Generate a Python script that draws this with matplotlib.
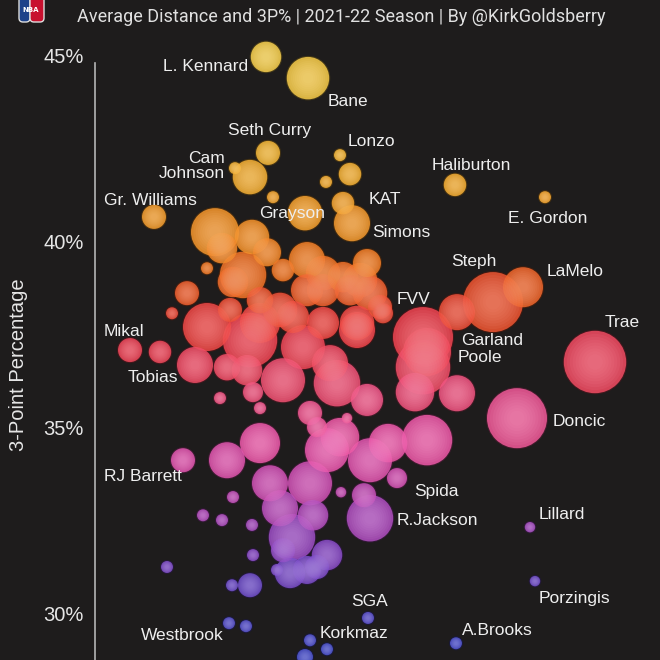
import matplotlib
matplotlib.use("Agg")
import matplotlib.pyplot as plt
import numpy as np
from matplotlib.colors import LinearSegmentedColormap, Normalize
from matplotlib.patches import FancyBboxPatch

# average shot distance (ft), 3P%, 3PA per game (bubble size)
avg_dist = [13.32, 14.16, 13.36, 12.70, 13.00, 13.46, 14.10, 14.80, 15.00, 14.52,
            14.86, 15.04, 17.10, 18.90, 11.08, 12.30, 13.04, 12.44, 13.34, 14.14,
            13.66, 12.14, 12.86, 12.66, 11.74, 11.44, 14.46, 14.86, 15.20, 15.40,
            14.46, 15.00, 14.14, 13.60, 13.20, 12.60, 15.60, 12.14, 13.20, 13.86,
            14.46, 15.14, 15.66, 10.60, 11.20, 11.90, 13.00, 12.54, 12.94, 13.66,
            14.06, 14.60, 14.74, 15.34, 13.06, 13.20, 12.40, 14.20, 14.34, 14.94,
            15.14, 15.34, 17.86, 18.46, 17.14, 16.46, 16.54, 16.46, 16.30, 17.14,
            19.90, 18.34, 16.54, 15.76, 14.80, 13.20, 12.54, 11.66, 14.54, 15.40,
            15.94, 13.40, 14.20, 13.60, 14.26, 15.40, 15.28, 14.82, 12.66, 12.06,
            12.44, 13.04, 13.84, 13.66, 13.06, 14.54, 13.80, 14.14, 13.54, 11.34,
            13.00, 12.64, 14.34, 12.58, 12.92, 14.20, 14.54, 15.36, 18.60, 18.70,
            17.12, 14.10]
three_pct = [44.95, 44.38, 42.37, 41.96, 41.72, 41.18, 40.75, 42.31, 41.80, 41.59,
             41.02, 40.48, 41.51, 41.18, 40.65, 40.24, 40.11, 39.81, 39.70, 39.49,
             39.22, 39.27, 39.09, 38.90, 38.60, 38.06, 39.14, 39.03, 38.95, 38.60,
             38.68, 38.68, 38.68, 38.15, 38.41, 38.15, 38.23, 37.69, 37.80, 37.96,
             37.80, 37.80, 38.06, 37.07, 37.02, 36.67, 37.34, 36.61, 36.53, 36.26,
             37.15, 36.72, 36.18, 35.73, 35.94, 35.51, 35.78, 35.38, 35.00, 35.24,
             37.61, 39.41, 38.36, 38.76, 38.09, 37.42, 37.02, 36.61, 35.94, 35.91,
             36.75, 35.24, 34.65, 34.57, 34.73, 34.57, 34.11, 34.11, 34.38, 34.11,
             33.63, 33.49, 33.49, 32.82, 32.63, 32.55, 33.17, 33.25, 33.12, 32.63,
             32.50, 32.37, 32.04, 31.69, 31.56, 31.56, 31.08, 31.16, 31.16, 31.24,
             30.75, 30.75, 31.24, 29.73, 29.65, 29.27, 29.03, 29.87, 32.31, 30.86,
             29.19, 28.82]
three_pa = [3.8, 5.3, 3.0, 1.5, 4.3, 1.5, 4.3, 1.5, 2.8, 1.5,
            2.8, 4.5, 2.8, 1.5, 3.0, 6.0, 4.3, 3.8, 3.5, 4.5,
            2.8, 1.5, 5.8, 3.8, 3.0, 1.5, 4.3, 3.8, 4.3, 4.3,
            4.0, 3.8, 4.0, 4.3, 3.3, 3.0, 3.0, 6.0, 5.0, 4.0,
            4.0, 4.3, 2.5, 3.0, 2.8, 4.5, 6.8, 3.3, 3.8, 5.5,
            5.5, 4.5, 5.8, 4.0, 2.5, 1.5, 1.5, 3.0, 2.5, 1.3,
            4.5, 3.5, 7.5, 5.0, 4.5, 7.5, 6.0, 6.8, 4.8, 4.5,
            7.8, 7.5, 6.3, 4.8, 4.8, 5.0, 4.5, 3.0, 5.5, 5.5,
            2.5, 4.5, 5.5, 4.5, 3.8, 5.8, 3.0, 1.3, 1.5, 1.5,
            1.5, 1.5, 5.8, 3.0, 1.5, 3.8, 3.8, 3.5, 1.5, 1.5,
            3.0, 1.5, 3.0, 1.5, 1.5, 1.5, 1.5, 1.5, 1.3, 1.3,
            1.5, 2.0]

# player labels: name, x, y, alignment
labels = [("L. Kennard", 12.96, 44.70, "right"), ("Bane", 14.56, 43.74, "left"),
          ("Seth Curry", 12.56, 42.96, "left"), ("Lonzo", 14.96, 42.69, "left"),
          ("Cam\nJohnson", 12.50, 42.02, "right"), ("Haliburton", 16.64, 42.02, "left"),
          ("Gr. Williams", 10.08, 41.10, "left"), ("KAT", 15.38, 41.13, "left"),
          ("Grayson", 13.18, 40.75, "left"), ("E. Gordon", 18.16, 40.62, "left"),
          ("Simons", 15.44, 40.24, "left"), ("Steph", 17.02, 39.44, "left"),
          ("LaMelo", 18.94, 39.19, "left"), ("FVV", 15.94, 38.44, "left"),
          ("Trae", 20.10, 37.82, "left"), ("Mikal", 10.08, 37.58, "left"),
          ("Garland", 17.22, 37.34, "left"), ("Poole", 17.16, 36.88, "left"),
          ("Tobias", 10.56, 36.32, "left"), ("Doncic", 19.06, 35.16, "left"),
          ("RJ Barrett", 10.08, 33.68, "left"), ("Spida", 16.28, 33.28, "left"),
          ("R.Jackson", 15.94, 32.50, "left"), ("Lillard", 18.78, 32.66, "left"),
          ("SGA", 15.02, 30.30, "left"), ("Porzingis", 18.78, 30.40, "left"),
          ("Westbrook", 10.82, 29.41, "left"), ("Korkmaz", 14.40, 29.46, "left"),
          ("A.Brooks", 17.24, 29.54, "left")]

yticks = [30, 35, 40, 45]

bg = "#1e1c1c"
cmap = LinearSegmentedColormap.from_list("pct", [
    (0.00, "#4f55d0"), (0.094, "#6a52cc"), (0.156, "#8a4ec8"), (0.219, "#b050c0"),
    (0.281, "#d052b4"), (0.344, "#ec5aac"), (0.406, "#f05a90"), (0.469, "#f0506a"),
    (0.531, "#ef4550"), (0.581, "#ee5535"), (0.638, "#f07828"), (0.70, "#f4952e"),
    (0.781, "#f5ad35"), (0.875, "#f5c040"), (1.00, "#f7cf50")])
norm = Normalize(29, 45)

fig = plt.figure(figsize=(6.6, 6.6), dpi=100, facecolor=bg)
ax = fig.add_axes([95 / 660, 0, 1 - 95 / 660, 1], facecolor=bg)
ax.set_xlim(9.9, 21.2)
ax.set_ylim(28.74, 46.48)

x = np.array(avg_dist)
y = np.array(three_pct)
r = np.array(three_pa) * 4.0 * 0.72  # radius in points
order = np.argsort(-r)
x, y, r = x[order], y[order], r[order]
base = cmap(norm(y))[:, :3]
white = np.ones_like(base)

# dark rim, body, then soft highlight layers
ax.scatter(x, y, s=(2 * r + 1.5) ** 2, c=base * 0.3, alpha=0.85, lw=0, zorder=2)
ax.scatter(x, y, s=(2 * r) ** 2, c=base, alpha=0.85, lw=0, zorder=3)
tint = base * 0.7 + white * 0.3
for k, f in enumerate(np.linspace(0.9, 0.25, 8)):
    ax.scatter(x, y, s=(2 * r * f) ** 2, c=tint, alpha=0.12, lw=0, zorder=4 + k)

for name, lx, ly, ha in labels:
    ax.text(lx, ly, name, ha=ha, va="center", ma=ha, color="#eeeeee",
            fontsize=12.5, family="Liberation Sans", linespacing=0.95, zorder=20)

for s in ["top", "right", "bottom"]:
    ax.spines[s].set_visible(False)
ax.spines["left"].set_color("#b5b5b5")
ax.spines["left"].set_linewidth(1.2)
ax.spines["left"].set_bounds(28.74, 44.8)
ax.set_xticks([])
ax.set_yticks(yticks)
ax.set_yticklabels([f"{t}%" for t in yticks], family="Liberation Sans",
                   fontsize=14.5, color="#e6e6e6")
ax.tick_params(axis="y", length=0, pad=8)
ax.set_ylabel("3-Point Percentage", family="Liberation Sans", fontsize=14.5,
              color="#e6e6e6")
ax.yaxis.set_label_coords(-0.118, 0.447)

fig.text(77 / 660, 1 - 17 / 660, "Average Distance and 3P% | 2021-22 Season | By @KirkGoldsberry",
         family="Roboto", fontsize=13, color="#e0e0e0", va="center", ha="left")

# small league logo
fig.patches.append(FancyBboxPatch((19 / 660, 1 - 22 / 660), 11 / 660, 26 / 660,
                                  boxstyle="round,pad=0,rounding_size=0.006",
                                  transform=fig.transFigure, fc="#1d428a", ec="#dddddd", lw=1))
fig.patches.append(FancyBboxPatch((30 / 660, 1 - 22 / 660), 14 / 660, 26 / 660,
                                  boxstyle="round,pad=0,rounding_size=0.006",
                                  transform=fig.transFigure, fc="#c8102e", ec="#dddddd", lw=1))
fig.text(31 / 660, 1 - 10 / 660, "NBA", color="white", fontsize=5, ha="center",
         va="center", weight="bold", family="DejaVu Sans")

fig.savefig("out.png", dpi=100, facecolor=bg)
